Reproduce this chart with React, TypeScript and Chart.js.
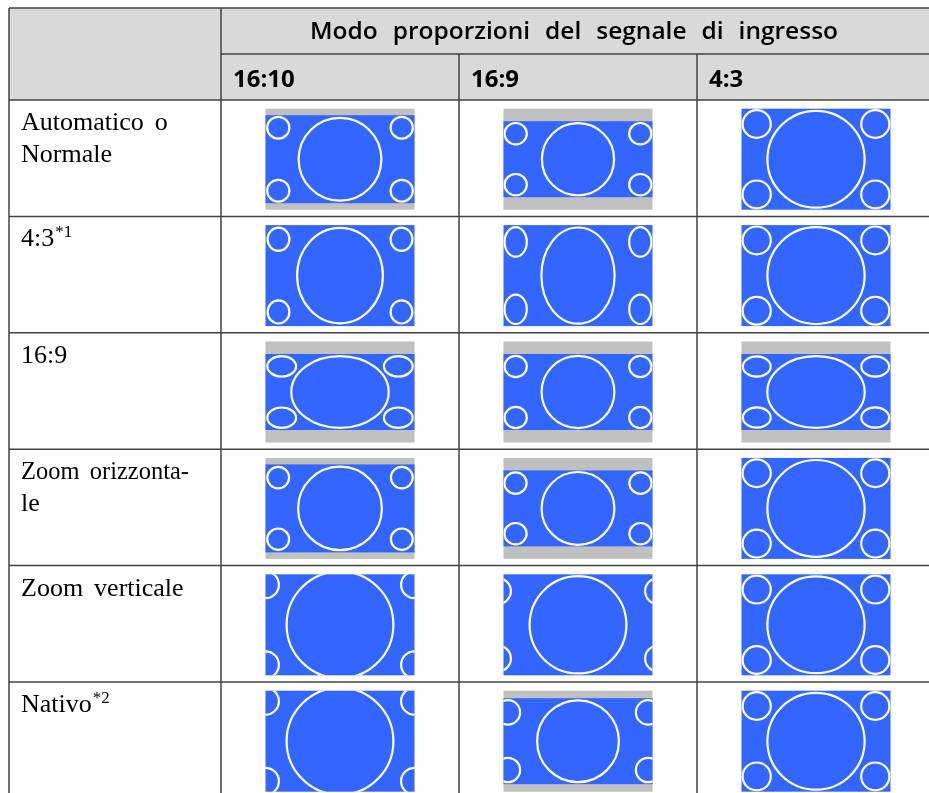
import React, { useEffect, useRef } from "react";
import { Chart, registerables } from "chart.js";

Chart.register(...registerables);

// ---------------- data ----------------
const headerTitle = "Modo proporzioni del segnale di ingresso";
const inputRatios = ["16:10", "16:9", "4:3"];
const modeLines = [
  ["Automatico o", "Normale"],
  ["4:3"],
  ["16:9"],
  ["Zoom orizzonta-", "le"],
  ["Zoom verticale"],
  ["Nativo"],
];
const modeNotes = ["", "*1", "", "", "", "*2"];

// Per cell (rows = modes, columns = input ratios), read in units of the 149 x 101 picture frame
const greyBand = [
  [6.5, 12.5, 0],
  [0, 0, 0],
  [12.5, 12.5, 12.5],
  [6.5, 12.5, 0],
  [0, 0, 0],
  [0, 7.5, 0],
];
const mainRx = [
  [42.5, 37.2, 49.7],
  [44, 37.7, 49.7],
  [49.8, 37.5, 49.8],
  [43, 37.5, 49.7],
  [54.5, 49.5, 49.7],
  [54.5, 42, 49.7],
];
const mainRy = [
  [42.5, 37.2, 49.5],
  [48.8, 49.2, 49.5],
  [37, 37.2, 37],
  [42.8, 37.5, 49.5],
  [54.5, 49.7, 49.5],
  [54.5, 42, 49.5],
];
const cornerRx = [
  [12.2, 12.2, 15.2],
  [12, 12.2, 15.2],
  [15.5, 12.2, 15],
  [12, 12.2, 15.2],
  [14.5, 14, 15.2],
  [14.5, 13.3, 15.2],
];
const cornerRy = [
  [12, 11.8, 15],
  [12.7, 15.8, 15],
  [11.3, 11.8, 11.3],
  [11.8, 11.8, 15],
  [14.5, 14, 15],
  [14.5, 13.3, 15],
];
const cornerX = [
  [12.8, 12.2, 15.2],
  [13, 12.2, 15.2],
  [16.2, 12.2, 15.3],
  [12.7, 12, 15.2],
  [0, -5.5, 15.2],
  [0, 4.4, 15.2],
];
const cornerY = [
  [19, 25, 15.3],
  [14.2, 16.8, 15.3],
  [24.8, 25, 25],
  [19.7, 25.2, 15.3],
  [10.5, 16.8, 15.3],
  [10.5, 21.7, 15.3],
];

// ---------------- layout ----------------
const W = 929;
const H = 793;
const TABLE_LEFT = 9;
const TABLE_TOP = 8;
const HEAD_ROW_H = 46;
const LABEL_COL_W = 212;
const COL_W = 238;
const ROW_H = 116.4;
const FRAME_W = 149;
const FRAME_H = 101;
const FRAME_DY = 1;
const TITLE_W = 528;
const TITLE_GAP = 15;
const LABEL_MAX_W = 168;

const X_MIN = 0.5 - (TABLE_LEFT + LABEL_COL_W) / COL_W;
const X_MAX = X_MIN + W / COL_W;
const Y_MIN = -0.5 - (TABLE_TOP + 2 * HEAD_ROW_H) / ROW_H;
const Y_MAX = Y_MIN + H / ROW_H;

const points: { x: number; y: number }[] = [];
modeLines.forEach((_, r) => {
  inputRatios.forEach((__, c) => {
    points.push({ x: c + 1, y: r });
  });
});

const BLUE = "#3366ff";
const GREY = "#c0c0c0";
const HEAD_BG = "#d9d9d9";
const LINE = "#424242";

const tablePlugin = {
  id: "aspectTable",
  afterDatasetsDraw(chart: any) {
    const ctx: CanvasRenderingContext2D = chart.ctx;
    const xs = chart.scales.x;
    const ys = chart.scales.y;
    const px = (v: number) => xs.getPixelForValue(v);
    const py = (v: number) => ys.getPixelForValue(v);
    const s = (px(1) - px(0)) / COL_W;

    const labelLeftV = 0.5 - LABEL_COL_W / COL_W;
    const headTopV = -0.5 - (2 * HEAD_ROW_H) / ROW_H;
    const headMidV = -0.5 - HEAD_ROW_H / ROW_H;
    const left = px(labelLeftV);
    const right = px(inputRatios.length + 0.5);
    const top = py(headTopV);
    const mid = py(headMidV);
    const bodyTop = py(-0.5);
    const bottom = py(modeLines.length - 0.5);

    ctx.save();
    // header background
    ctx.fillStyle = HEAD_BG;
    ctx.fillRect(left, top, right - left, bodyTop - top);

    // pictures
    const meta = chart.getDatasetMeta(0);
    meta.data.forEach((el: any, i: number) => {
      const r = Math.floor(i / inputRatios.length);
      const c = i % inputRatios.length;
      const fw = FRAME_W * s;
      const fh = FRAME_H * s;
      const fx = el.x - fw / 2;
      const fy = el.y - fh / 2 + FRAME_DY * s;
      const band = greyBand[r][c] * s;
      if (band > 0) {
        ctx.fillStyle = GREY;
        ctx.fillRect(fx, fy, fw, fh);
      }
      ctx.fillStyle = BLUE;
      ctx.fillRect(fx, fy + band, fw, fh - 2 * band);
      ctx.save();
      ctx.beginPath();
      ctx.rect(fx, fy + band, fw, fh - 2 * band);
      ctx.clip();
      ctx.strokeStyle = "#ffffff";
      const lw = 2.2 * s;
      ctx.lineWidth = lw;
      ctx.beginPath();
      ctx.ellipse(fx + fw / 2, fy + fh / 2, mainRx[r][c] * s - lw / 2, mainRy[r][c] * s - lw / 2, 0, 0, Math.PI * 2);
      ctx.stroke();
      const crx = cornerRx[r][c] * s - lw / 2;
      const cry = cornerRy[r][c] * s - lw / 2;
      const dx = cornerX[r][c] * s;
      const dy = cornerY[r][c] * s;
      [fx + dx, fx + fw - dx].forEach((cx) => {
        [fy + dy, fy + fh - dy].forEach((cy) => {
          ctx.beginPath();
          ctx.ellipse(cx, cy, crx, cry, 0, 0, Math.PI * 2);
          ctx.stroke();
        });
      });
      ctx.restore();
    });

    // grid lines
    ctx.strokeStyle = LINE;
    ctx.lineWidth = 1.5;
    const hLine = (y: number, x0: number, x1: number) => {
      ctx.beginPath();
      ctx.moveTo(x0, y);
      ctx.lineTo(x1, y);
      ctx.stroke();
    };
    const vLine = (x: number, y0: number, y1: number) => {
      ctx.beginPath();
      ctx.moveTo(x, y0);
      ctx.lineTo(x, y1);
      ctx.stroke();
    };
    hLine(top, left, right);
    hLine(mid, px(0.5), right);
    for (let k = 0; k <= modeLines.length; k++) hLine(py(k - 0.5), left, right);
    vLine(left, top, bottom);
    vLine(px(0.5), top, bottom);
    for (let c = 1; c < inputRatios.length; c++) vLine(px(c + 0.5), mid, bottom);
    vLine(right, top, bottom);

    // header title, spread over the three columns (font widened to the reference's proportions)
    ctx.fillStyle = "#000000";
    ctx.textBaseline = "alphabetic";
    ctx.textAlign = "left";
    ctx.font = "600 24px 'Open Sans'";
    const words = headerTitle.split(" ");
    const widths = words.map((w) => ctx.measureText(w).width);
    const sum = widths.reduce((a, b) => a + b, 0);
    const titleW = TITLE_W * s;
    const gap = TITLE_GAP * s;
    const f = (titleW - gap * (words.length - 1)) / sum;
    const tStart = (px(0.5) + right) / 2 - 4 * s - titleW / 2;
    const tBase = top + 31 * s;
    let tx = tStart;
    words.forEach((w, i) => {
      ctx.save();
      ctx.translate(tx, tBase);
      ctx.scale(f, 1);
      ctx.fillText(w, 0, 0);
      ctx.restore();
      tx += widths[i] * f + gap;
    });

    // column labels
    ctx.font = "bold 24px 'Open Sans'";
    inputRatios.forEach((lab, c) => {
      ctx.fillText(lab, px(c + 0.5) + 12 * s, mid + 33 * s);
    });

    // row labels
    modeLines.forEach((lines, r) => {
      const rowTop = py(r - 0.5);
      let endX = 0;
      let baseY = 0;
      lines.forEach((line, li) => {
        ctx.font = "26px 'Liberation Serif'";
        const ws = line.split(" ");
        const wgap = 11 * s;
        const wws = ws.map((w) => ctx.measureText(w).width);
        const natural = wws.reduce((a, b) => a + b, 0) + wgap * (ws.length - 1);
        const k = Math.min(1, (LABEL_MAX_W * s) / natural);
        const x0 = left + 12 * s;
        baseY = rowTop + (30 + 32 * li) * s;
        ctx.save();
        ctx.translate(x0, baseY);
        ctx.scale(k, 1);
        let x = 0;
        ws.forEach((w, wi) => {
          ctx.fillText(w, x, 0);
          x += wws[wi] + (wi < ws.length - 1 ? wgap : 0);
        });
        ctx.restore();
        endX = x0 + x * k;
      });
      if (modeNotes[r]) {
        ctx.font = "17px 'Liberation Serif'";
        ctx.fillText(modeNotes[r], endX + 1, baseY - 9 * s);
      }
    });
    ctx.restore();
  },
};

export default function App() {
  const ref = useRef<HTMLCanvasElement>(null);
  useEffect(() => {
    const canvas = ref.current;
    if (!canvas) return;
    const chart = new Chart(canvas, {
      type: "scatter",
      data: {
        datasets: [
          {
            data: points,
            pointRadius: 0,
            pointHoverRadius: 0,
          },
        ],
      },
      options: {
        responsive: false,
        animation: false,
        devicePixelRatio: 1,
        events: [],
        layout: { padding: 0 },
        plugins: { legend: { display: false }, tooltip: { enabled: false } },
        scales: {
          x: { type: "linear", display: false, bounds: "data", min: X_MIN, max: X_MAX },
          y: { type: "linear", display: false, bounds: "data", reverse: true, min: Y_MIN, max: Y_MAX },
        },
      } as any,
      plugins: [tablePlugin as any],
    });
    return () => chart.destroy();
  }, []);
  return (
    <div style={{ position: "fixed", left: 0, top: 0, width: W, height: H, background: "#ffffff" }}>
      <canvas ref={ref} width={W} height={H} style={{ display: "block", width: W, height: H }} />
    </div>
  );
}
